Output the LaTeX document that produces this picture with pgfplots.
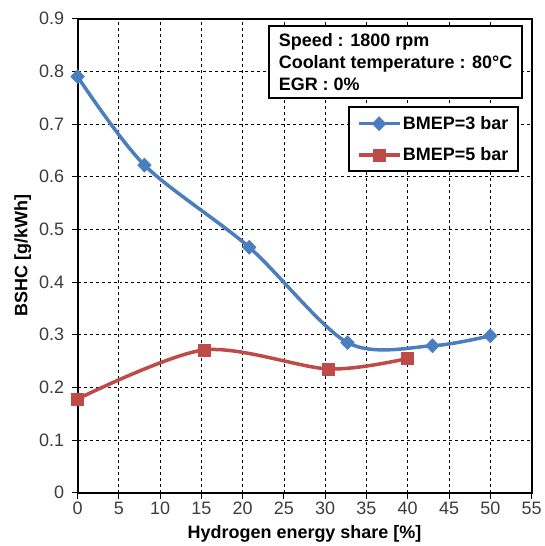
\documentclass[border=0pt]{standalone}
\usepackage{pgfplots}
\pgfplotsset{compat=1.18}
\usepackage{fontspec}
\setmainfont{Liberation Sans}
\definecolor{xblue}{RGB}{74,126,190}
\definecolor{xred}{RGB}{190,75,72}
\definecolor{ticktext}{RGB}{60,60,60}
\begin{document}
\begin{tikzpicture}
\begin{axis}[
  scale only axis, width=453bp, height=473bp,
  xmin=0, xmax=55, ymin=0, ymax=0.9,
  xtick={0,5,10,15,20,25,30,35,40,45,50,55},
  ytick={0,0.1,0.2,0.3,0.4,0.5,0.6,0.7,0.8,0.9},
  yticklabels={0,0.1,0.2,0.3,0.4,0.5,0.6,0.7,0.8,0.9},
  /pgf/number format/assume math mode=true,
  tick label style={font=\fontsize{18}{21}\selectfont, color=ticktext},
  yticklabel style={xshift=-4bp},
  tick align=outside, major tick length=6bp,
  tick style={black, line width=1bp},
  xtick pos=bottom, ytick pos=left,
  axis line style={line width=2bp},
  grid=major, grid style={dashed, black, line width=0.8bp},
  xlabel={\textbf{Hydrogen energy share [\%]}},
  ylabel={\textbf{BSHC [g/kWh]}},
  label style={font=\fontsize{18}{21}\selectfont},
  xlabel shift=4bp, ylabel shift=1bp,
  legend cell align=left,
  legend style={at={(rel axis cs:0.973,0.815)}, anchor=north east,
    draw=black, line width=2bp, font=\bfseries\fontsize{18}{21}\selectfont,
    row sep=13bp, inner xsep=8bp, inner ysep=7bp},
  legend image code/.code={
    \draw[#1, mark repeat=2, mark phase=2] plot coordinates {(0bp,0bp) (20bp,0bp) (40bp,0bp)};
  },
]
\addplot[xblue, line width=3.5bp, smooth, mark=diamond*, mark size=7bp,
  mark options={line width=0.5bp, xscale=1.3}]
  coordinates {(0,0.79) (8.1,0.622) (20.8,0.466) (32.7,0.285) (43.0,0.279) (50,0.298)};
\addlegendentry{BMEP=3 bar}
\addplot[xred, line width=3.5bp, smooth, mark=square*, mark size=6bp,
  mark options={line width=0.5bp}]
  coordinates {(0,0.178) (15.3,0.271) (30.4,0.235) (40,0.255)};
\addlegendentry{BMEP=5 bar}
\node[draw=black, line width=2bp, fill=white, anchor=north east, align=left,
  font=\bfseries\fontsize{18}{22}\selectfont, inner xsep=10bp, inner ysep=7bp]
  at (rel axis cs:0.982,0.986)
  {Speed : 1800 rpm\\Coolant temperature : 80°C\\EGR : 0\%};
\end{axis}
\path ([xshift=-11bp,yshift=9bp]current axis.outer north west);
\end{tikzpicture}
\end{document}
